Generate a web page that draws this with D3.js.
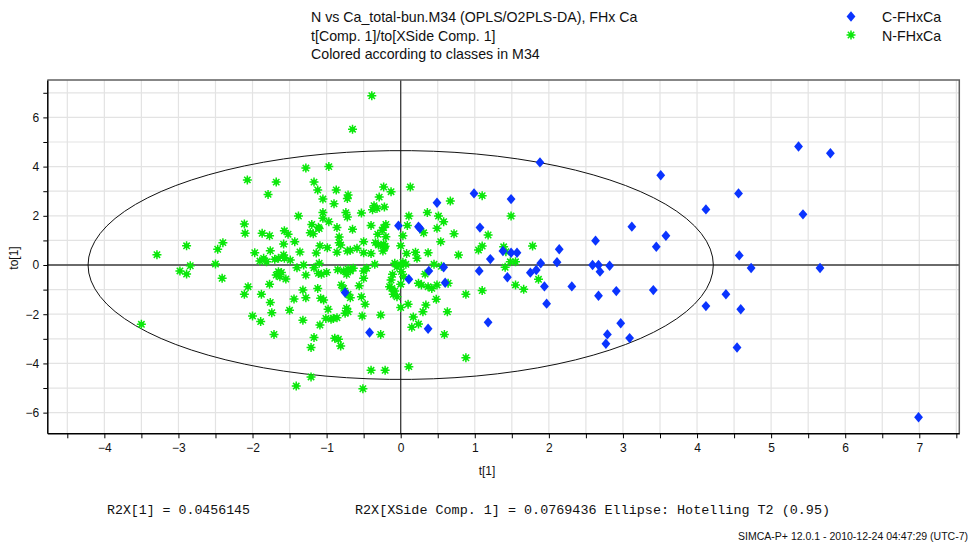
<!DOCTYPE html>
<html>
<head>
<meta charset="utf-8">
<script src="https://cdn.jsdelivr.net/npm/d3@7"></script>
<style>
  body { margin: 0; background: #fff; }
  svg { display: block; }
</style>
</head>
<body>
<svg id="chart" width="974" height="546"></svg>
<script>
// ---- data -------------------------------------------------------------
const titleLines = [
  "N vs Ca_total-bun.M34 (OPLS/O2PLS-DA), FHx Ca",
  "t[Comp. 1]/to[XSide Comp. 1]",
  "Colored according to classes in M34"
];
const classNames = ["C-FHxCa", "N-FHxCa"];

// t[1], to[1] scores, class C-FHxCa
const cScores = [
  [1.88,4.17],[0.99,2.91],[1.49,2.68],[0.49,2.53],[3.51,3.65],[-0.03,1.60],
  [0.24,1.56],[0.26,1.49],[1.07,1.52],[3.12,1.56],[2.63,0.99],[3.45,0.74],
  [2.14,0.64],[1.38,0.57],[1.49,0.50],[1.57,0.50],[1.21,0.24],[5.37,4.82],
  [5.80,4.54],[4.56,2.91],[4.12,2.26],[5.43,2.06],[3.58,1.19],[4.57,0.39],
  [4.73,-0.12],[5.66,-0.12],[4.39,-1.19],[4.12,-1.67],[4.59,-1.80],[4.54,-3.35],
  [6.99,-6.19],[0.38,-0.24],[0.58,-0.09],[1.06,-0.24],[0.11,-0.58],[0.60,-0.72],
  [1.44,-0.50],[1.89,0.07],[2.11,0.11],[1.75,-0.31],[1.83,-0.20],[1.94,-0.87],
  [2.31,-0.87],[1.97,-1.57],[2.59,0.00],[2.67,0.00],[2.69,-0.27],[2.82,-0.03],
  [2.67,-1.25],[2.91,-1.06],[3.41,-1.02],[1.18,-2.33],[2.97,-2.37],[2.79,-2.82],
  [2.77,-3.20],[3.09,-2.97],[-0.42,-2.74],[0.37,-2.59],[-0.75,-1.12]
];

// t[1], to[1] scores, class N-FHxCa
const nScores = [
  [-2.07,3.46],[-1.68,3.37],[-1.79,2.87],[-1.28,3.94],[-0.97,4.00],[-1.17,3.37],
  [-1.12,3.05],[-1.05,2.68],[-1.38,1.99],[-1.05,2.13],[-1.05,1.90],[-0.97,1.76],
  [-2.11,1.67],[-2.10,1.29],[-1.87,1.29],[-1.77,1.19],[-1.57,1.39],[-1.52,1.25],
  [-1.58,0.85],[-1.43,0.95],[-1.20,1.65],[-1.22,1.31],[-1.18,1.27],[-1.11,1.53],
  [-1.10,1.48],[-1.09,0.78],[-0.99,0.70],[-1.36,0.53],[-1.14,0.49],[-1.76,0.58],
  [-1.97,0.50],[-1.85,0.27],[-1.70,0.23],[-1.65,0.27],[-1.58,0.41],[-1.57,0.27],
  [-1.49,0.20],[-2.47,0.64],[-2.40,0.91],[-2.89,0.78],[-3.29,0.42],
  [-2.98,-0.24],[-2.89,-0.37],[-2.84,-0.03],[-2.50,0.04],[-2.41,-0.54],[-3.50,-2.41],
  [-2.06,-0.88],[-2.11,-1.19],[-2.00,-2.07],[-1.89,-2.30],[-1.88,-1.19],[-1.77,-0.78],
  [-1.76,-1.52],[-1.74,-1.94],[-1.71,-2.82],[-1.50,-1.84],[-1.44,-1.38],[-1.32,-1.02],
  [-1.28,-1.33],[-1.32,-2.24],[-1.41,-4.92],[-1.21,-3.35],[-1.17,-2.95],[-1.21,-4.55],
  [-1.09,-2.44],[-1.12,-0.95],[-1.08,-1.35],[-1.04,-1.42],[-0.98,-1.80],[-1.01,-2.17],
  [-1.68,-0.41],[-1.63,-0.48],[-1.65,-0.27],[-1.61,-0.30],[-1.55,-0.57],[-1.40,-0.11],
  [-1.31,0.00],[-1.28,-0.41],[-1.17,-0.11],[-1.11,-0.34],[-1.07,-0.38],[-1.00,-0.30],
  [-1.10,0.07],[-1.81,0.13],[-1.90,0.16],
  [-0.87,3.05],[-0.90,2.49],[-0.71,2.85],[-0.72,2.70],[-0.74,2.13],[-0.72,1.95],
  [-0.86,1.52],[-0.65,1.45],[-0.83,1.14],[-0.83,0.91],[-0.81,0.81],[-0.86,0.52],
  [-0.72,0.57],[-0.68,0.60],
  [-0.23,3.17],[-0.13,2.98],[0.13,3.17],[-0.29,2.76],[-0.36,2.41],[-0.38,2.25],
  [-0.32,2.30],[-0.22,2.36],[-0.53,2.11],[-0.40,1.61],[-0.23,1.52],[-0.20,1.65],
  [-0.25,1.41],[-0.31,1.25],[-0.20,1.15],[-0.50,0.95],[-0.59,0.68],[-0.50,0.50],
  [-0.40,0.47],[-0.34,0.91],[-0.30,0.81],[-0.23,0.85],[-0.22,0.70],[-0.21,0.76],
  [-0.24,0.57],[0.03,1.19],[0.00,0.78],[0.11,1.99],[0.09,1.61],[0.31,1.31],
  [0.36,2.13],[0.51,1.99],[0.58,1.76],[0.49,1.49],[0.67,2.60],[0.72,1.27],
  [0.54,0.95],[0.37,0.50],[0.08,0.47],[0.20,0.52],[0.22,0.27],[0.78,0.41],
  [-0.39,6.88],[-0.65,5.52],[1.10,2.82],[1.49,1.99],[1.18,1.22],[1.10,0.77],
  [1.05,0.61],[1.39,0.74],[1.42,0.54],[1.78,0.77],
  [-0.85,-0.19],[-0.77,-0.24],[-0.71,-0.16],[-0.68,-0.24],[-0.73,-0.38],[-0.46,-0.13],
  [-0.50,-0.24],[-0.35,0.03],[-0.08,0.07],[-0.05,-0.07],[0.00,0.00],[0.03,0.11],
  [0.07,0.03],[-0.11,-0.38],[-0.13,-0.61],[-0.15,-0.88],[-0.12,-0.95],[-0.08,-1.06],
  [-0.10,-1.19],[-0.05,-1.29],[0.00,-0.78],[0.00,-1.73],[0.10,-1.59],[0.45,0.03],
  [0.33,-0.37],[0.24,-0.74],[0.28,-0.81],[0.37,-0.88],[0.42,-0.95],[0.49,-0.81],
  [0.64,-0.74],[0.48,-1.39],[0.34,-1.63],[0.30,-1.90],[0.63,-1.90],[0.17,-2.11],
  [0.24,-2.40],[0.15,-2.53],[0.59,-2.82],[-0.27,-2.82],[0.11,-4.13],[-0.40,-4.28],
  [-0.21,-4.28],[-0.51,-5.03],[0.88,-3.77],[0.88,-1.19],[1.10,-1.04],[1.41,-0.09],
  [1.48,0.13],[1.55,0.13],[1.55,-0.81],[1.66,-0.99],[1.86,-0.58],[-0.52,-2.07],
  [-0.27,-2.03],[-0.48,-1.59],[-0.53,-1.29],[-0.73,-1.76],[-0.75,-1.96],[-0.71,-1.90],
  [-0.80,-0.81],[-0.77,-0.95],[-0.71,-1.19],[-0.68,-1.33],[-0.86,-2.14],[-0.91,-2.17],
  [-0.89,-2.98],[-0.84,-3.02],[-0.81,-3.29],[-0.64,-0.13],[-0.50,-0.54],[-0.56,-0.84],
  [0.01,-0.27],[0.04,-0.48],[-0.94,-2.20],[0.55,-0.05]
];

// Hotelling T2 (0.95) ellipse semi-axes in t[1] and to[1] units
const ellipseRadii = [4.22, 4.65];

const xDomain = [-4.77, 7.54];
const yDomain = [-6.84, 7.52];
const xTicks = [-4.5,-4,-3.5,-3,-2.5,-2,-1.5,-1,-0.5,0,0.5,1,1.5,2,2.5,3,3.5,4,4.5,5,5.5,6,6.5,7,7.5];
const xTickLabels = [-4,-3,-2,-1,0,1,2,3,4,5,6,7];
const yTicks = [-6,-5,-4,-3,-2,-1,0,1,2,3,4,5,6,7];
const yTickLabels = [-6,-4,-2,0,2,4,6];

const footnoteLeft = "R2X[1] = 0.0456145";
const footnoteRight = "R2X[XSide Comp. 1] = 0.0769436 Ellipse: Hotelling T2 (0.95)";
const stamp = "SIMCA-P+ 12.0.1 - 2010-12-24 04:47:29 (UTC-7)";

// ---- layout -----------------------------------------------------------
const plot = { left: 47.3, right: 959.3, top: 80, bottom: 433.3 };
const BLUE = "#0a34ff";
const GREEN = "#0be80b";
const sansFont = "'Liberation Sans', Arial, sans-serif";
const monoFont = "'Liberation Mono', 'DejaVu Sans Mono', monospace";

const svg = d3.select("#chart");
const x = d3.scaleLinear().domain(xDomain).range([plot.left, plot.right]);
const y = d3.scaleLinear().domain(yDomain).range([plot.bottom, plot.top]);

// grid
const grid = svg.append("g").attr("stroke", "#e3e3e3").attr("stroke-width", 1.2);
grid.selectAll("line.v").data(xTicks).join("line")
  .attr("x1", d => x(d)).attr("x2", d => x(d))
  .attr("y1", plot.top).attr("y2", plot.bottom);
grid.selectAll("line.h").data(yTicks).join("line")
  .attr("x1", plot.left).attr("x2", plot.right)
  .attr("y1", d => y(d)).attr("y2", d => y(d));

// zero lines
svg.append("line").attr("x1", plot.left).attr("x2", plot.right)
  .attr("y1", y(0)).attr("y2", y(0)).attr("stroke", "#3c3c3c").attr("stroke-width", 1.3);
svg.append("line").attr("x1", x(0)).attr("x2", x(0))
  .attr("y1", plot.top).attr("y2", plot.bottom).attr("stroke", "#3c3c3c").attr("stroke-width", 1.3);

// frame: top and right edges
svg.append("path")
  .attr("d", `M${plot.left},${plot.top}H${plot.right}V${plot.bottom}`)
  .attr("fill", "none").attr("stroke", "#606060").attr("stroke-width", 1.5);

// ellipse
const angles = d3.range(0, 361, 4).map(a => a * Math.PI / 180);
svg.append("path")
  .datum(angles)
  .attr("d", d3.line()
    .x(a => x(ellipseRadii[0] * Math.cos(a)))
    .y(a => y(ellipseRadii[1] * Math.sin(a))))
  .attr("fill", "none").attr("stroke", "#111").attr("stroke-width", 1);

// axes
const xAxis = svg.append("g")
  .attr("transform", `translate(0,${plot.bottom})`)
  .call(d3.axisBottom(x).tickValues(xTicks).tickSize(5).tickSizeOuter(0)
    .tickFormat(d => xTickLabels.includes(d) ? d3.format("d")(d) : ""));
const yAxis = svg.append("g")
  .attr("transform", `translate(${plot.left},0)`)
  .call(d3.axisLeft(y).tickValues(yTicks).tickSize(4).tickSizeOuter(0)
    .tickFormat(d => yTickLabels.includes(d) ? d3.format("d")(d) : ""));
[xAxis, yAxis].forEach(g => {
  g.select(".domain").attr("stroke", "#000").attr("stroke-width", 1.5);
  g.selectAll(".tick line").attr("stroke", "#000");
  g.selectAll(".tick text").attr("font-family", sansFont).attr("font-size", 12).attr("fill", "#111");
});
xAxis.selectAll(".tick text").attr("dy", "1.1em").attr("y", 6);
yAxis.selectAll(".tick text").attr("x", -8);

// markers
const diamond = {
  draw(ctx, size) {
    const w = 4.4, h = 5.2;
    ctx.moveTo(0, -h); ctx.lineTo(w, 0); ctx.lineTo(0, h); ctx.lineTo(-w, 0); ctx.closePath();
  }
};
const star = {
  draw(ctx, size) {
    const r = 4.5;
    for (let k = 0; k < 4; k++) {
      const a = k * Math.PI / 4;
      ctx.moveTo(-r * Math.cos(a), -r * Math.sin(a));
      ctx.lineTo(r * Math.cos(a), r * Math.sin(a));
    }
  }
};
const diamondPath = d3.symbol().type(diamond)();
const starPath = d3.symbol().type(star)();

const starG = svg.append("g");
starG.selectAll("g").data(nScores).join("g")
  .attr("transform", d => `translate(${x(d[0])},${y(d[1])})`)
  .each(function () {
    const g = d3.select(this);
    g.append("path").attr("d", starPath).attr("stroke", GREEN).attr("stroke-width", 1.5).attr("fill", "none");
    g.append("circle").attr("r", 2.5).attr("fill", GREEN);
  });

svg.append("g").selectAll("path").data(cScores).join("path")
  .attr("transform", d => `translate(${x(d[0])},${y(d[1])})`)
  .attr("d", diamondPath).attr("fill", BLUE);

// axis titles
svg.append("text").attr("x", 487).attr("y", 475).attr("text-anchor", "middle")
  .attr("font-family", sansFont).attr("font-size", 12).attr("fill", "#111").text("t[1]");
svg.append("text").attr("transform", "translate(18,258) rotate(-90)").attr("text-anchor", "middle")
  .attr("font-family", sansFont).attr("font-size", 12).attr("fill", "#111").text("to[1]");

// title block
svg.append("g").selectAll("text").data(titleLines).join("text")
  .attr("x", 311).attr("y", (d, i) => 22 + i * 18.5)
  .attr("font-family", sansFont).attr("font-size", 14.2).attr("fill", "#111")
  .text(d => d);

// legend
const legend = svg.append("g").attr("transform", "translate(851,0)");
legend.append("path").attr("transform", "translate(0,16.5)").attr("d", diamondPath).attr("fill", BLUE);
const ls = legend.append("g").attr("transform", "translate(0,35)");
ls.append("path").attr("d", starPath).attr("stroke", GREEN).attr("stroke-width", 1.5);
ls.append("circle").attr("r", 2.5).attr("fill", GREEN);
legend.selectAll("text").data(classNames).join("text")
  .attr("x", 31).attr("y", (d, i) => 22 + i * 18.5)
  .attr("font-family", sansFont).attr("font-size", 14.2).attr("fill", "#111")
  .text(d => d);

// footnotes
svg.append("text").attr("x", 107).attr("y", 514)
  .attr("font-family", monoFont).attr("font-size", 13).attr("fill", "#111")
  .attr("textLength", 143).attr("lengthAdjust", "spacingAndGlyphs").text(footnoteLeft);
svg.append("text").attr("x", 355).attr("y", 514)
  .attr("font-family", monoFont).attr("font-size", 13).attr("fill", "#111")
  .attr("textLength", 475).attr("lengthAdjust", "spacingAndGlyphs").text(footnoteRight);
svg.append("text").attr("x", 738).attr("y", 540)
  .attr("font-family", sansFont).attr("font-size", 10).attr("fill", "#111")
  .attr("textLength", 230).attr("lengthAdjust", "spacingAndGlyphs").text(stamp);
</script>
</body>
</html>
